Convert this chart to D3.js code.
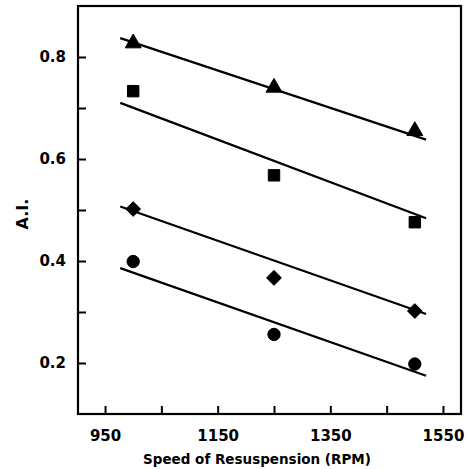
<!DOCTYPE html>
<html>
<head>
<meta charset="utf-8">
<script src="https://cdn.jsdelivr.net/npm/d3@7"></script>
<style>
  body { margin: 0; background: #fff; }
  svg text { font-family: "DejaVu Sans", sans-serif; font-weight: bold; fill: #000; }
</style>
</head>
<body>
<svg id="chart" width="470" height="469"></svg>
<script>
// speeds of resuspension (RPM) where each series was measured
var speeds = [1000, 1250, 1500];

// A.I. values per series
var triangleVals = [0.827, 0.740, 0.655];
var squareVals   = [0.733, 0.568, 0.476];
var diamondVals  = [0.502, 0.367, 0.302];
var circleVals   = [0.399, 0.256, 0.198];

// fitted line ends (RPM range, A.I. at each end)
var lineSpeeds = [977, 1520];
var triangleLine = [0.837, 0.638];
var squareLine   = [0.710, 0.484];
var diamondLine  = [0.507, 0.296];
var circleLine   = [0.386, 0.175];

var xTicks = [950, 1050, 1150, 1250, 1350, 1450, 1550];
var xLabels = [950, 1150, 1350, 1550];
var yTicks = [0.2, 0.3, 0.4, 0.5, 0.6, 0.7, 0.8];
var yLabels = [0.2, 0.4, 0.6, 0.8];

var svg = d3.select("#chart");
var margin = {top: 6, right: 9, bottom: 55, left: 78};
var width = 470 - margin.left - margin.right;
var height = 469 - margin.top - margin.bottom;

var x = d3.scaleLinear().domain([902, 1582]).range([0, width]);
var y = d3.scaleLinear().domain([0.1, 0.9]).range([height, 0]);

var g = svg.append("g")
    .attr("transform", "translate(" + margin.left + "," + margin.top + ")");

// inward ticks on bottom and left
var xAxis = g.append("g")
    .attr("transform", "translate(0," + height + ")")
    .call(d3.axisBottom(x).tickValues(xTicks).tickSize(-8).tickPadding(16)
        .tickFormat(function(d) { return xLabels.indexOf(d) >= 0 ? d : ""; }));

var yAxis = g.append("g")
    .call(d3.axisLeft(y).tickValues(yTicks).tickSize(-8).tickPadding(12)
        .tickFormat(function(d) {
            return yLabels.some(function(v) { return Math.abs(v - d) < 1e-9; }) ? d3.format(".1f")(d) : "";
        }));

[xAxis, yAxis].forEach(function(a) {
    a.select(".domain").remove();
    a.selectAll(".tick line").attr("stroke", "#000").attr("stroke-width", 2);
    a.selectAll(".tick text").style("font-size", "15px");
});

g.append("rect")
    .attr("x", 0).attr("y", 0)
    .attr("width", width).attr("height", height)
    .attr("fill", "none")
    .attr("stroke", "#000")
    .attr("stroke-width", 2.2);

var series = [
    {vals: triangleVals, line: triangleLine, shape: d3.symbolTriangle, size: 110},
    {vals: squareVals, line: squareLine, shape: d3.symbolSquare, size: 130},
    {vals: diamondVals, line: diamondLine, shape: d3.symbolSquare, size: 105, rotate: 45},
    {vals: circleVals, line: circleLine, shape: d3.symbolCircle, size: 120}
];

var line = d3.line()
    .x(function(d) { return x(d[0]); })
    .y(function(d) { return y(d[1]); });

series.forEach(function(s) {
    g.append("path")
        .attr("d", line(lineSpeeds.map(function(v, i) { return [v, s.line[i]]; })))
        .attr("stroke", "#000")
        .attr("stroke-width", 2.2)
        .attr("fill", "none");

    g.selectAll(null)
        .data(s.vals)
        .enter().append("path")
        .attr("d", d3.symbol().type(s.shape).size(s.size))
        .attr("transform", function(d, i) {
            return "translate(" + x(speeds[i]) + "," + y(d) + ")" + (s.rotate ? " rotate(" + s.rotate + ")" : "");
        })
        .attr("fill", "#000")
        .attr("stroke", "#000")
        .attr("stroke-width", 1)
        .attr("stroke-linejoin", "round");
});

svg.append("text")
    .attr("x", 257)
    .attr("y", 464)
    .attr("text-anchor", "middle")
    .style("font-size", "13.5px")
    .text("Speed of Resuspension (RPM)");

svg.append("text")
    .attr("transform", "translate(28,214) rotate(-90)")
    .attr("text-anchor", "middle")
    .style("font-size", "16px")
    .text("A.I.");
</script>
</body>
</html>
